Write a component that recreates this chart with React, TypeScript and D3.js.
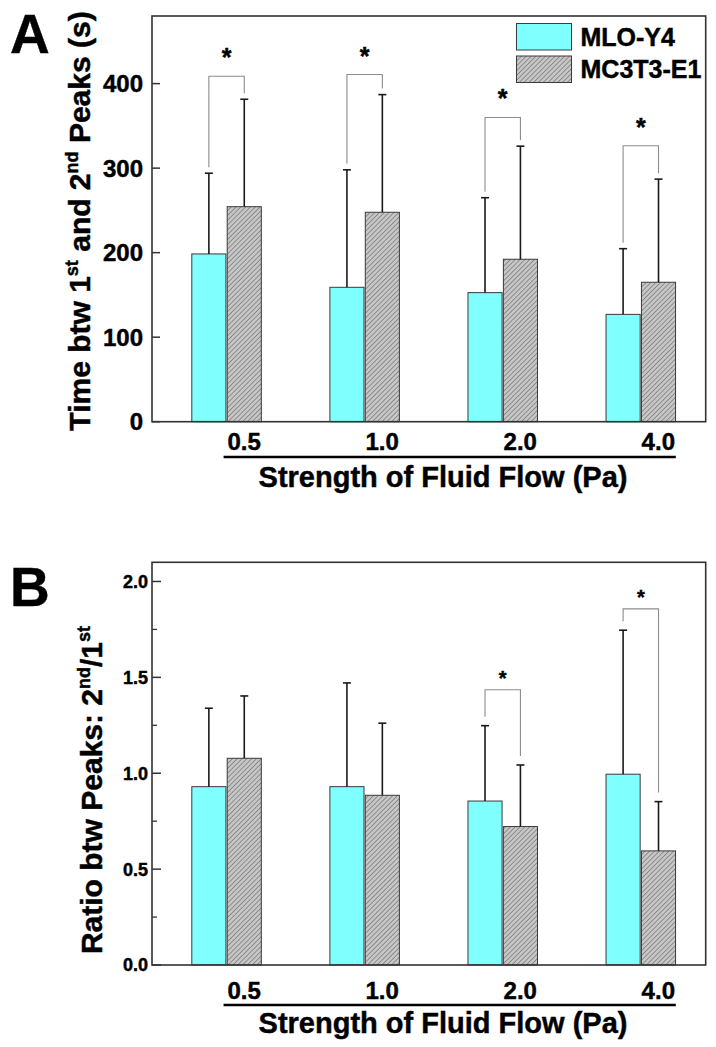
import React from "react";
import * as d3 from "d3";

const categories = ["0.5", "1.0", "2.0", "4.0"];
const seriesNames = ["MLO-Y4", "MC3T3-E1"];

// Panel A: time between 1st and 2nd peaks (s)
const mloA = [198.5, 159, 152.7, 127];
const mloAsd = [95.5, 139, 112.3, 77.7];
const mcA = [254.4, 247.8, 192.2, 165];
const mcAsd = [127.1, 139.2, 133.8, 122];
const sigA = [408.8, 410.7, 360, 326.5];
const ticksA = [0, 100, 200, 300, 400];

// Panel B: ratio between peaks
const mloB = [0.93, 0.93, 0.855, 0.995];
const mloBsd = [0.409, 0.541, 0.393, 0.751];
const mcB = [1.078, 0.885, 0.722, 0.595];
const mcBsd = [0.325, 0.376, 0.321, 0.257];
const sigB = [null, null, 1.435, 1.857];
const ticksB = [0, 0.5, 1.0, 1.5, 2.0];
const minorB = [0.25, 0.75, 1.25, 1.75];

const FONT = "'Liberation Sans', Arial, Helvetica, sans-serif";
const CYAN = "#80ffff";
const HEAVY = { stroke: "#000", strokeWidth: 0.45 };

const x = d3.scaleLinear().domain([0.46, 4.47]).range([152, 705.7]);

type PanelProps = {
  y: d3.ScaleLinear<number, number>;
  mlo: number[];
  mloSd: number[];
  mc: number[];
  mcSd: number[];
  sig: (number | null)[];
  ticks: number[];
  minor: number[];
  fmt: (v: number) => string;
  tickFont: number;
  tickLen: number;
  tickLabelX: number;
  starFont: number;
  starGap: number;
  legGap: number;
  letter: string;
  letterY: number;
  catY: number;
  lineY: number;
  titleY: number;
  ytitle: React.ReactNode;
  ytitleX: number;
  ytitleY: number;
  legend: boolean;
};

function Panel(p: PanelProps) {
  const [y0, y1] = p.y.range();
  const left = x.range()[0];
  const right = x.range()[1];
  const step = x(2) - x(1);
  const bw = step * 0.247;
  const gap = 1.3;
  return (
    <g>
      <text x={10} y={p.letterY} fontSize={55} fontWeight="bold" fontFamily={FONT} {...HEAVY}>
        {p.letter}
      </text>
      {categories.map((c, i) => {
        const cx = x(i + 1);
        const x1 = cx - gap / 2 - bw;
        const x2 = cx + gap / 2;
        const c1 = x1 + bw / 2;
        const c2 = x2 + bw / 2;
        const t1 = p.y(p.mlo[i]);
        const t2 = p.y(p.mc[i]);
        const e1 = p.y(p.mlo[i] + p.mloSd[i]);
        const e2 = p.y(p.mc[i] + p.mcSd[i]);
        const s = p.sig[i];
        return (
          <g key={c}>
            <rect x={x1} y={t1} width={bw} height={y0 - t1} fill={CYAN} stroke="#3a3a3a" strokeWidth={1} />
            <rect x={x2} y={t2} width={bw} height={y0 - t2} fill="url(#hatch)" stroke="#3a3a3a" strokeWidth={1} />
            <line x1={c1} x2={c1} y1={t1} y2={e1} stroke="#1a1a1a" strokeWidth={1.6} />
            <line x1={c1 - 4} x2={c1 + 4} y1={e1} y2={e1} stroke="#1a1a1a" strokeWidth={1.6} />
            <line x1={c2} x2={c2} y1={t2} y2={e2} stroke="#1a1a1a" strokeWidth={1.6} />
            <line x1={c2 - 4} x2={c2 + 4} y1={e2} y2={e2} stroke="#1a1a1a" strokeWidth={1.6} />
            {s != null && (
              <g>
                <path
                  d={`M${c1},${e1 - p.legGap}V${p.y(s)}H${c2}V${e2 - p.legGap}`}
                  fill="none"
                  stroke="#8c8c8c"
                  strokeWidth={1.1}
                />
                <text
                  x={cx}
                  y={p.y(s) - p.starGap}
                  textAnchor="middle"
                  fontSize={p.starFont}
                  fontWeight="bold"
                  fontFamily={FONT}
                  {...HEAVY}
                >
                  *
                </text>
              </g>
            )}
            <text
              x={cx + 17.5}
              y={p.catY}
              textAnchor="middle"
              fontSize={24}
              fontWeight="bold"
              fontFamily={FONT}
              {...HEAVY}
            >
              {c}
            </text>
          </g>
        );
      })}
      <rect x={left} y={y1} width={right - left} height={y0 - y1} fill="none" stroke="#333" strokeWidth={1.6} />
      {p.ticks.map((t) => (
        <g key={"t" + t}>
          <line x1={left} x2={left + p.tickLen} y1={p.y(t)} y2={p.y(t)} stroke="#333" strokeWidth={1.5} />
          <text
            x={p.tickLabelX}
            y={p.y(t)}
            dy="0.36em"
            textAnchor="end"
            fontSize={p.tickFont}
            fontWeight="bold"
            fontFamily={FONT}
            {...HEAVY}
          >
            {p.fmt(t)}
          </text>
        </g>
      ))}
      {p.minor.map((t) => (
        <line key={"m" + t} x1={left} x2={left + 5} y1={p.y(t)} y2={p.y(t)} stroke="#333" strokeWidth={1.3} />
      ))}
      <line x1={x(1) - 3} x2={x(4) + 35} y1={p.lineY} y2={p.lineY} stroke="#000" strokeWidth={2.6} />
      <text x={443} y={p.titleY} textAnchor="middle" fontSize={29} fontWeight="bold" fontFamily={FONT} {...HEAVY}>
        Strength of Fluid Flow (Pa)
      </text>
      <text
        transform={`translate(${p.ytitleX},${p.ytitleY}) rotate(-90)`}
        textAnchor="middle"
        fontSize={30}
        fontWeight="bold"
        fontFamily={FONT}
        {...HEAVY}
      >
        {p.ytitle}
      </text>
      {p.legend && (
        <g>
          {seriesNames.map((n, i) => (
            <g key={n}>
              <rect
                x={516.5}
                y={23.5 + i * 32.5}
                width={55}
                height={26.5}
                fill={i === 0 ? CYAN : "url(#hatch)"}
                stroke="#3a3a3a"
                strokeWidth={1}
              />
              <text x={580.5} y={45.5 + i * 32.5} fontSize={25} fontWeight="bold" fontFamily={FONT} {...HEAVY}>
                {n}
              </text>
            </g>
          ))}
        </g>
      )}
    </g>
  );
}

export default function App() {
  const yA = d3.scaleLinear().domain([0, 480]).range([421.7, 16]);
  const yB = d3.scaleLinear().domain([0, 2.1]).range([965, 562.3]);
  const sup = 18;
  return (
    <svg
      width={716}
      height={1047}
      style={{ position: "absolute", left: 0, top: 0, background: "#fff" }}
    >
      <defs>
        <pattern id="hatch" patternUnits="userSpaceOnUse" width={3.4} height={3.4} patternTransform="rotate(45)">
          <rect width={3.4} height={3.4} fill="#c6c6c6" />
          <line x1={0} y1={0} x2={0} y2={3.4} stroke="#4a4a4a" strokeWidth={0.9} />
        </pattern>
      </defs>
      <rect width={716} height={1047} fill="#fff" />
      <Panel
        y={yA}
        mlo={mloA}
        mloSd={mloAsd}
        mc={mcA}
        mcSd={mcAsd}
        sig={sigA}
        ticks={ticksA}
        minor={[]}
        fmt={(v) => d3.format("d")(v)}
        tickFont={24}
        tickLen={8}
        tickLabelX={143}
        starFont={25}
        starGap={10}
        legGap={6}
        letter="A"
        letterY={52.5}
        catY={450}
        lineY={457}
        titleY={487}
        ytitleX={90}
        ytitleY={221}
        legend={true}
        ytitle={
          <>
            <tspan>Time btw 1</tspan>
            <tspan fontSize={sup} dy={-12}>st</tspan>
            <tspan dy={12}> and 2</tspan>
            <tspan fontSize={sup} dy={-12}>nd</tspan>
            <tspan dy={12}> Peaks (s)</tspan>
          </>
        }
      />
      <Panel
        y={yB}
        mlo={mloB}
        mloSd={mloBsd}
        mc={mcB}
        mcSd={mcBsd}
        sig={sigB}
        ticks={ticksB}
        minor={minorB}
        fmt={(v) => d3.format(".1f")(v)}
        tickFont={18}
        tickLen={9}
        tickLabelX={148}
        starFont={20}
        starGap={5}
        legGap={9}
        letter="B"
        letterY={606}
        catY={999}
        lineY={1005}
        titleY={1033}
        ytitleX={102}
        ytitleY={790}
        legend={false}
        ytitle={
          <>
            <tspan>Ratio btw Peaks: 2</tspan>
            <tspan fontSize={sup} dy={-12}>nd</tspan>
            <tspan dy={12}>/1</tspan>
            <tspan fontSize={sup} dy={-12}>st</tspan>
          </>
        }
      />
    </svg>
  );
}
